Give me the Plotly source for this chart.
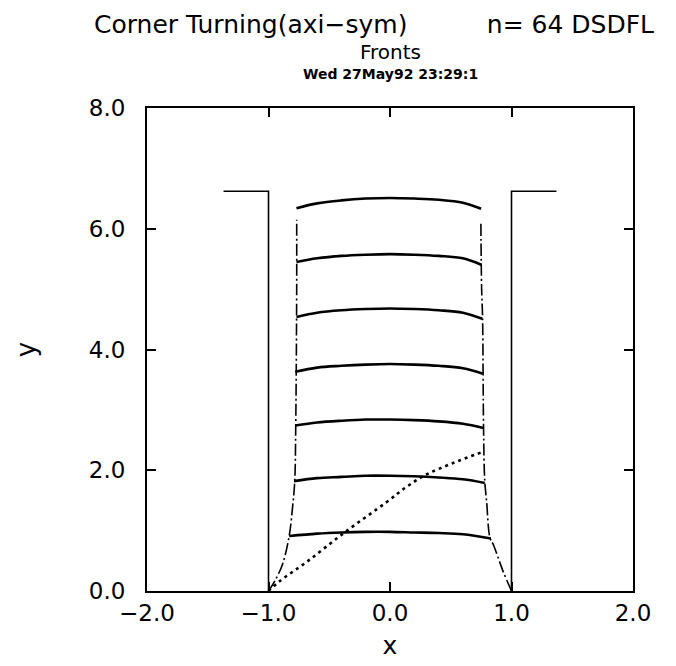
import plotly.graph_objects as go

# walls of the container (outer boundary)
wall_left_x = [-1.37, -1.0, -1.0]
wall_left_y = [6.62, 6.62, 0.0]
wall_right_x = [1.0, 1.0, 1.37]
wall_right_y = [0.0, 6.62, 6.62]

# charge edge (dash-dot)
edge_left_x = [-1.0, -0.95, -0.885, -0.83, -0.80, -0.784, -0.776, -0.768, -0.768]
edge_left_y = [0.0, 0.16, 0.44, 0.91, 1.43, 1.82, 2.70, 5.02, 6.15]
edge_right_x = [1.0, 0.93, 0.85, 0.823, 0.795, 0.78, 0.77, 0.762, 0.754, 0.748]
edge_right_y = [0.0, 0.33, 0.77, 0.88, 1.49, 1.82, 2.70, 4.52, 5.02, 6.12]

# fronts
front_x = [
    [-0.83, -0.6, -0.4, -0.2, 0.0, 0.2, 0.4, 0.6, 0.83],
    [-0.79, -0.6, -0.4, -0.2, 0.0, 0.2, 0.4, 0.6, 0.78],
    [-0.78, -0.6, -0.4, -0.2, 0.0, 0.2, 0.4, 0.6, 0.77],
    [-0.78, -0.6, -0.4, -0.2, 0.0, 0.2, 0.4, 0.6, 0.765],
    [-0.77, -0.6, -0.4, -0.2, 0.0, 0.2, 0.4, 0.6, 0.76],
    [-0.77, -0.6, -0.4, -0.2, 0.0, 0.2, 0.4, 0.6, 0.755],
    [-0.77, -0.6, -0.4, -0.2, 0.0, 0.2, 0.4, 0.6, 0.75],
]
front_y = [
    [0.91, 0.95, 0.97, 0.98, 0.98, 0.97, 0.96, 0.94, 0.87],
    [1.82, 1.87, 1.89, 1.91, 1.91, 1.90, 1.88, 1.85, 1.79],
    [2.74, 2.79, 2.82, 2.84, 2.84, 2.83, 2.81, 2.77, 2.70],
    [3.63, 3.70, 3.73, 3.75, 3.76, 3.75, 3.73, 3.69, 3.60],
    [4.54, 4.61, 4.65, 4.67, 4.68, 4.67, 4.65, 4.61, 4.51],
    [5.45, 5.51, 5.55, 5.57, 5.58, 5.57, 5.55, 5.51, 5.40],
    [6.34, 6.42, 6.47, 6.50, 6.51, 6.50, 6.48, 6.43, 6.33],
]

# dotted trace of the corner
dot_x = [-1.0, -0.91, -0.68, -0.38, -0.03, 0.14, 0.30, 0.52, 0.77]
dot_y = [0.0, 0.16, 0.49, 0.96, 1.47, 1.73, 1.93, 2.12, 2.31]

x_ticks = [-2.0, -1.0, 0.0, 1.0, 2.0]
y_ticks = [0.0, 2.0, 4.0, 6.0, 8.0]

title_main = "Corner Turning(axi\u2212sym)" + "\u00a0" * 10 + "n= 64 DSDFL"
title_sub = "Fronts"
title_date = "Wed 27May92 23:29:1"

fig = go.Figure()

for xs, ys in [(wall_left_x, wall_left_y), (wall_right_x, wall_right_y)]:
    fig.add_trace(go.Scatter(x=xs, y=ys, mode="lines",
                             line=dict(color="black", width=1.6)))

for xs, ys in [(edge_left_x, edge_left_y), (edge_right_x, edge_right_y)]:
    fig.add_trace(go.Scatter(x=xs, y=ys, mode="lines", line_shape="spline",
                             line=dict(color="black", width=1.6,
                                       dash="12px,3px,2px,3px")))

for xs, ys in zip(front_x, front_y):
    fig.add_trace(go.Scatter(x=xs, y=ys, mode="lines", line_shape="spline",
                             line=dict(color="black", width=2.6)))

fig.add_trace(go.Scatter(x=dot_x, y=dot_y, mode="lines", line_shape="spline",
                         line=dict(color="black", width=2.6, dash="3px,4px")))

axis_common = dict(
    showgrid=False, zeroline=False, showline=True, mirror="ticks",
    linecolor="black", linewidth=2, ticks="inside", ticklen=9,
    tickwidth=2, tickcolor="black", tickformat=".1f",
    tickfont=dict(family="DejaVu Sans", size=23, color="black"),
)

fig.update_xaxes(range=[-2, 2], tickvals=x_ticks,
                 title=dict(text="x", font=dict(family="DejaVu Sans", size=25, color="black"),
                            standoff=12),
                 **axis_common)
fig.update_yaxes(range=[0, 8], tickvals=y_ticks, ticklabelstandoff=15,
                 title=dict(text="y", font=dict(family="DejaVu Sans", size=26, color="black"),
                            standoff=46),
                 **axis_common)

fig.add_annotation(text=title_main, xref="paper", yref="paper", x=0.468, y=1.172,
                   showarrow=False, xanchor="center", yanchor="middle",
                   font=dict(family="DejaVu Sans", size=25, color="black"))
fig.add_annotation(text=title_sub, xref="paper", yref="paper", x=0.5, y=1.115,
                   showarrow=False, xanchor="center", yanchor="middle",
                   font=dict(family="DejaVu Sans", size=20, color="black"))
fig.add_annotation(text="<b>" + title_date + "</b>", xref="paper", yref="paper", x=0.5, y=1.071,
                   showarrow=False, xanchor="center", yanchor="middle",
                   font=dict(family="DejaVu Sans", size=14, color="black"))

fig.update_layout(
    width=676, height=666, autosize=False,
    margin=dict(l=139, r=51, t=100, b=83),
    paper_bgcolor="white", plot_bgcolor="white",
    showlegend=False,
)

fig.write_html("out.html")
